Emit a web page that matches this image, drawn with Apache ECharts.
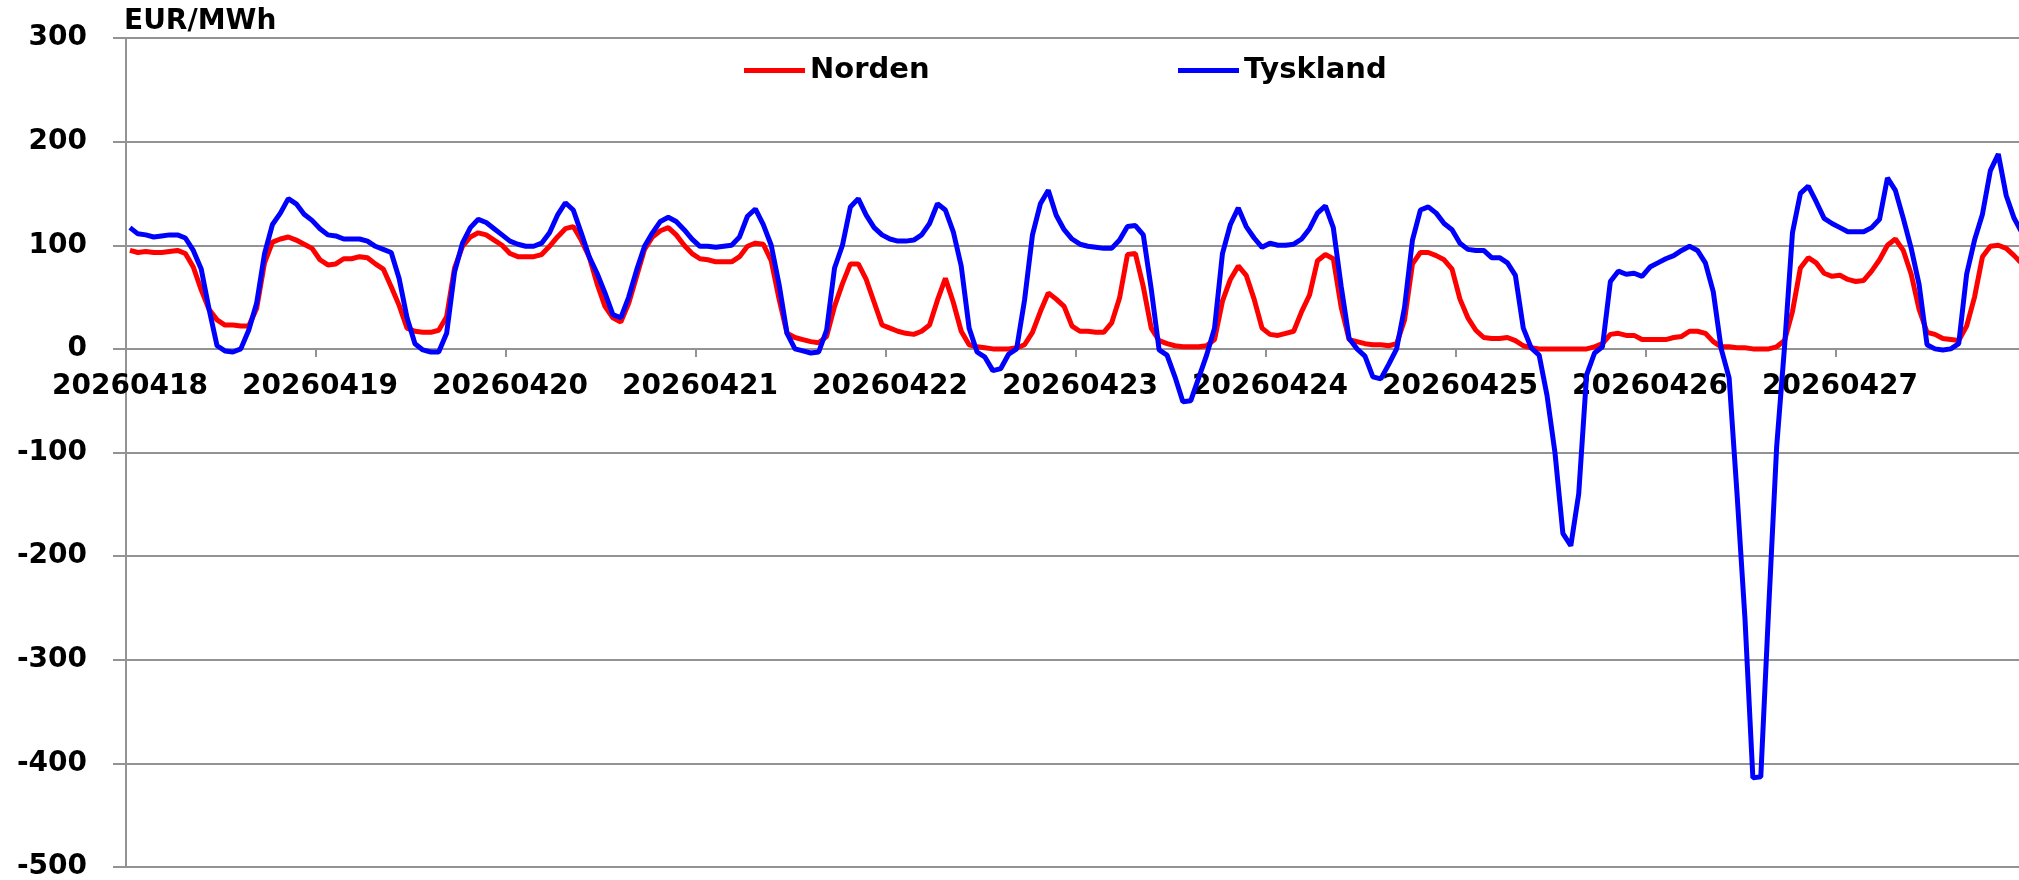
<!DOCTYPE html>
<html>
<head>
<meta charset="utf-8">
<script src="https://cdn.jsdelivr.net/npm/echarts@6/dist/echarts.min.js"></script>
<style>
html,body{margin:0;padding:0;background:#fff;}
#chart{width:2019px;height:880px;}
</style>
</head>
<body>
<div id="chart"></div>
<script>
// Days shown on the category axis (24 hourly values per day)
const days = ['20260418','20260419','20260420','20260421','20260422','20260423','20260424','20260425','20260426','20260427'];
const hoursPerDay = 24;
const yTicks = { min: -500, max: 300, step: 100 };
const unitLabel = 'EUR/MWh';
const seriesNames = ['Norden', 'Tyskland'];

// Hourly prices, EUR/MWh
const norden = [
  95,93,94,93,93,94,95,92,79,57,38,28,23,23,22,22,39,83,103,106,108,105,101,97,
  86,81,82,87,87,89,88,82,77,60,42,20,17,16,16,18,31,78,99,108,112,110,105,100,
  92,89,89,89,91,99,108,116,118,105,89,63,41,30,26,44,70,96,108,114,117,110,100,92,
  87,86,84,84,84,89,99,102,101,85,48,15,11,9,7,6,12,41,63,82,82,67,45,23,
  20,17,15,14,17,23,47,68,45,17,4,2,1,0,0,0,1,4,16,36,54,48,41,22,
  17,17,16,16,25,49,91,92,60,20,8,5,3,2,2,2,3,9,46,67,80,71,48,20,
  14,13,15,17,36,52,85,91,87,40,9,7,5,4,4,3,5,28,82,93,93,90,86,77,
  48,30,18,11,10,10,11,8,3,1,0,0,0,0,0,0,0,2,5,14,15,13,13,9,
  9,9,9,11,12,17,17,15,7,2,2,1,1,0,0,0,2,8,36,78,88,83,73,70,
  71,67,65,66,75,86,100,106,95,72,38,16,14,10,9,8,22,50,89,99,100,97,90,82
];
const tyskland = [
  117,111,110,108,109,110,110,107,95,77,38,3,-2,-3,0,18,44,92,120,131,145,140,130,124,
  116,110,109,106,106,106,104,99,96,93,68,30,5,-1,-3,-3,15,74,102,117,125,122,116,110,
  104,101,99,99,102,112,129,141,134,112,89,73,54,33,30,50,76,99,112,123,127,123,115,106,
  99,99,98,99,100,108,128,135,120,100,62,15,0,-2,-4,-3,18,78,100,137,145,129,117,110,
  106,104,104,105,110,121,140,134,113,80,20,-3,-8,-21,-19,-5,0,47,110,140,153,129,115,106,
  101,99,98,97,97,105,118,119,110,58,-1,-6,-27,-51,-50,-28,-6,20,92,120,136,118,107,98,
  102,100,100,101,106,116,131,138,117,60,10,0,-7,-27,-29,-15,0,40,105,134,137,131,121,115,
  102,96,95,95,88,88,83,71,20,1,-6,-45,-100,-178,-190,-140,-25,-4,2,65,75,72,73,70,
  79,83,87,90,95,99,95,83,55,0,-28,-140,-260,-414,-413,-250,-95,2,112,150,157,142,126,121,
  117,113,113,113,117,125,165,153,126,97,62,4,0,-1,0,5,72,105,130,172,188,148,126,112
];

const categories = [];
days.forEach(d => { for (let h = 0; h < hoursPerDay; h++) categories.push(d); });

const FONT = 'DejaVu Sans';
const GRAY = '#939393';
const isDayStart = (i) => i % hoursPerDay === 0;

const GRID_TOP = 38, GRID_H = 829;
// distance from the bottom of the plot up to the zero line (x axis sits on y = 0)
const zeroOffset = GRID_H * (0 - yTicks.min) / (yTicks.max - yTicks.min);

const chart = echarts.init(document.getElementById('chart'), null, { renderer: 'canvas' });
const legendText = { fontFamily: FONT, fontSize: 29, fontWeight: 'bold', color: '#000' };
chart.setOption({
  animation: false,
  backgroundColor: '#ffffff',
  title: {
    text: unitLabel, left: 124, top: 8, padding: 0,
    textStyle: { fontFamily: FONT, fontSize: 28, fontWeight: 'bold', color: '#000' }
  },
  legend: [
    { data: [seriesNames[0]], left: 744, top: 56, padding: 0, icon: 'rect', itemWidth: 61, itemHeight: 5, itemGap: 0, textStyle: legendText },
    { data: [seriesNames[1]], left: 1178, top: 56, padding: 0, icon: 'rect', itemWidth: 61, itemHeight: 5, itemGap: 0, textStyle: legendText }
  ],
  grid: { left: 126, top: GRID_TOP, width: 1900, height: GRID_H, containLabel: false, outerBoundsMode: 'none' },
  xAxis: {
    type: 'category',
    data: categories,
    boundaryGap: true,
    position: 'bottom',
    offset: -zeroOffset,
    axisLine: { onZero: false, lineStyle: { color: GRAY, width: 2 } },
    axisTick: { show: true, interval: isDayStart, length: 8, lineStyle: { color: GRAY, width: 2 } },
    axisLabel: { interval: isDayStart, margin: 24, fontFamily: FONT, fontSize: 28, fontWeight: 'bold', color: '#000' },
    splitLine: { show: false }
  },
  yAxis: {
    type: 'value',
    min: yTicks.min, max: yTicks.max, interval: yTicks.step,
    axisLine: { show: true, lineStyle: { color: GRAY, width: 2 } },
    axisTick: { show: true, length: 13, lineStyle: { color: GRAY, width: 2 } },
    axisLabel: { margin: 39, fontFamily: FONT, fontSize: 28, fontWeight: 'bold', color: '#000' },
    splitLine: { show: true, lineStyle: { color: GRAY, width: 2 } }
  },
  series: [
    { name: seriesNames[0], type: 'line', data: norden, showSymbol: false, symbol: 'none',
      lineStyle: { color: '#ff0000', width: 5 }, itemStyle: { color: '#ff0000' } },
    { name: seriesNames[1], type: 'line', data: tyskland, showSymbol: false, symbol: 'none',
      lineStyle: { color: '#0000ff', width: 5 }, itemStyle: { color: '#0000ff' } }
  ]
});
</script>
</body>
</html>
